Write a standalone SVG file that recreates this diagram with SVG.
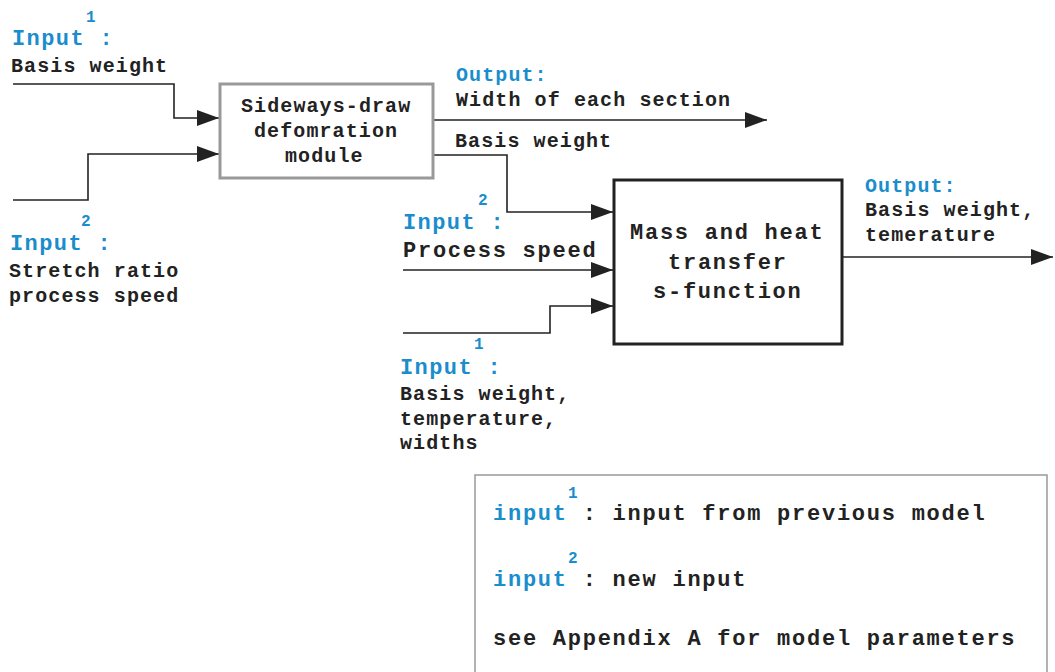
<svg xmlns="http://www.w3.org/2000/svg" width="1055" height="672" viewBox="0 0 1055 672">
<defs>
<style>
text{font-family:"Liberation Mono","Courier New",monospace;font-weight:bold;fill:#222}
.t{font-size:20px;letter-spacing:1.1px}
.L{font-size:22px;letter-spacing:1.75px}
.b{fill:#1a8dcc}
.in{font-size:22px;letter-spacing:1.4px}
.s{font-size:16px}
.ln{fill:none;stroke:#222;stroke-width:1.6}
</style>
<marker id="ah" markerUnits="userSpaceOnUse" markerWidth="22" markerHeight="16" refX="22" refY="8" orient="auto">
<path d="M0,0 L22,8 L0,16 Z" fill="#222"/>
</marker>
</defs>
<rect width="1055" height="672" fill="#fff"/>

<g id="connectors">
<path class="ln" d="M13,84 H174 V118 H219" marker-end="url(#ah)"/>
<path class="ln" d="M13,200 H88 V154 H219" marker-end="url(#ah)"/>
<path class="ln" d="M433,120 H767" marker-end="url(#ah)"/>
<path class="ln" d="M433,155 H507 V212 H613" marker-end="url(#ah)"/>
<path class="ln" d="M403,270 H613" marker-end="url(#ah)"/>
<path class="ln" d="M403,333 H550 V306 H613" marker-end="url(#ah)"/>
<path class="ln" d="M842,257 H1053" marker-end="url(#ah)"/>
</g>

<g id="node-sideways">
<rect x="220" y="84" width="213" height="94" fill="#fff" stroke="#999" stroke-width="3"/>
<text class="t" x="241" y="112">Sideways-draw</text>
<text class="t" x="254" y="137">defomration</text>
<text class="t" x="285" y="162">module</text>
</g>

<g id="node-mass">
<rect x="614" y="180" width="228" height="164" fill="#fff" stroke="#222" stroke-width="3"/>
<text class="L" x="630" y="239">Mass and heat</text>
<text class="L" x="668" y="269">transfer</text>
<text class="L" x="653" y="298">s-function</text>
</g>

<g id="label-input1-top">
<text class="s b" x="86" y="22">1</text>
<text class="in b" x="12" y="45">Input :</text>
<text class="t" x="11" y="72">Basis weight</text>
</g>

<g id="label-input2-left">
<text class="s b" x="81" y="226">2</text>
<text class="in b" x="10" y="250">Input :</text>
<text class="t" x="9" y="277">Stretch ratio</text>
<text class="t" x="9" y="302">process speed</text>
</g>

<g id="label-output1">
<text class="t b" x="456" y="81">Output:</text>
<text class="t" x="456" y="106">Width of each section</text>
<text class="t" x="455" y="147">Basis weight</text>
</g>

<g id="label-input2-mid">
<text class="s b" x="478" y="205">2</text>
<text class="in b" x="403" y="229">Input :</text>
<text class="L" x="403" y="257">Process speed</text>
</g>

<g id="label-input1-mid">
<text class="s b" x="474" y="349">1</text>
<text class="in b" x="400" y="374">Input :</text>
<text class="t" x="400" y="400">Basis weight,</text>
<text class="t" x="400" y="425">temperature,</text>
<text class="t" x="400" y="449">widths</text>
</g>

<g id="label-output2">
<text class="t b" x="865" y="192">Output:</text>
<text class="t" x="865" y="216">Basis weight,</text>
<text class="t" x="865" y="241">temerature</text>
</g>

<g id="legend">
<rect x="475" y="475" width="572" height="210" fill="#fff" stroke="#999" stroke-width="1.5"/>
<text class="s b" x="568" y="498">1</text>
<text class="L" x="493" y="520"><tspan class="b">input</tspan> : input from previous model</text>
<text class="s b" x="568" y="563">2</text>
<text class="L" x="493" y="586"><tspan class="b">input</tspan> : new input</text>
<text class="L" x="493" y="645">see Appendix A for model parameters</text>
</g>
</svg>
